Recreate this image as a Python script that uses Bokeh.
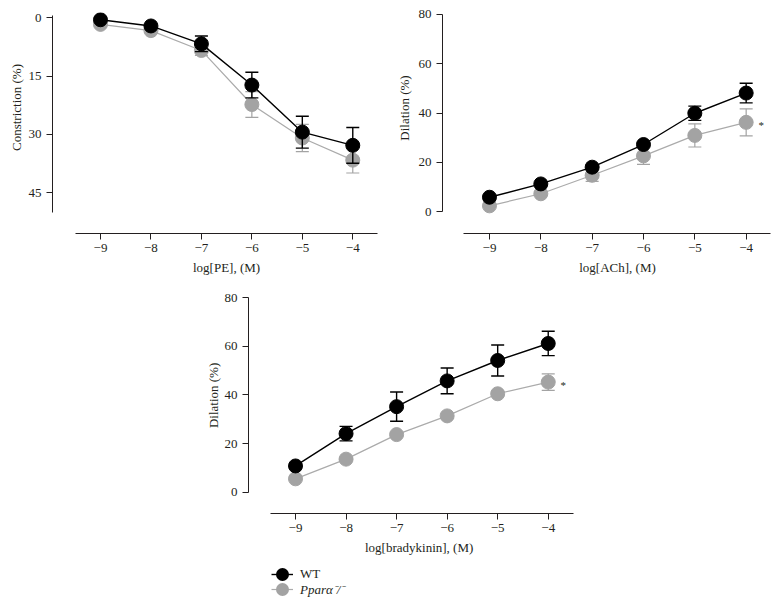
from bokeh.plotting import figure
from bokeh.layouts import column, row
from bokeh.models import Range1d, Spacer, Legend, LegendItem, ColumnDataSource, Title
from bokeh.core.properties import value
from bokeh.embed import file_html
from bokeh.resources import INLINE

# ---------------- data ----------------
log_conc = [-9, -8, -7, -6, -5, -4]
x_tick_labels = ["−9", "−8", "−7", "−6", "−5", "−4"]

pe_wt = [0.5, 2.1, 6.7, 17.3, 29.4, 32.8]
pe_wt_err = [0.5, 0.5, 2.0, 3.3, 4.1, 4.6]
pe_ko = [1.7, 3.3, 8.4, 22.3, 30.9, 36.6]
pe_ko_err = [0.4, 0.5, 1.3, 3.3, 3.5, 3.3]

ach_wt = [5.8, 11.2, 18.0, 27.2, 39.9, 48.1]
ach_wt_err = [0.5, 0.6, 0.8, 0.8, 2.9, 4.0]
ach_ko = [2.3, 7.2, 14.7, 22.6, 30.9, 36.2]
ach_ko_err = [0.5, 0.8, 2.5, 3.5, 4.7, 5.5]

bk_wt = [10.8, 24.1, 35.2, 45.8, 54.2, 61.2]
bk_wt_err = [1.0, 3.0, 6.0, 5.3, 6.4, 5.0]
bk_ko = [5.5, 13.6, 23.7, 31.4, 40.5, 45.3]
bk_ko_err = [0.5, 0.6, 0.8, 1.0, 1.0, 3.4]

pe_y_ticks = [0, 15, 30, 45]
dil_y_ticks = [0, 20, 40, 60, 80]

series_names = ["WT", "Pparα⁻/⁻"]

# ---------------- styling ----------------
FONT = "Liberation Serif"
AXIS_COL = "#231f20"
WT_COL = "#000000"
KO_COL = "#a3a3a3"
KO_LINE = "#ababab"
WT_LW = 1.4
KO_LW = 1.2


def add_title(p, text, side, offset, standoff):
    t = Title(text=text, align="left", offset=offset, standoff=standoff,
              vertical_align="middle", text_font=FONT, text_font_size="13px",
              text_font_style="normal", text_color=AXIS_COL)
    p.add_layout(t, side)


def style_axes(p, xlabel, ylabel, yticks, ybounds, xoff, yoff, ystand):
    p.xgrid.visible = False
    p.ygrid.visible = False
    p.outline_line_color = None
    xa = p.xaxis[0]
    ya = p.yaxis[0]
    xa.ticker = log_conc
    xa.major_label_overrides = {v: s for v, s in zip(log_conc, x_tick_labels)}
    xa.bounds = (-9.5, -3.5)
    ya.ticker = yticks
    ya.bounds = ybounds
    for ax in (xa, ya):
        ax.axis_line_color = AXIS_COL
        ax.axis_line_width = 1
        ax.major_tick_line_color = AXIS_COL
        ax.minor_tick_line_color = None
        ax.major_tick_out = 6
        ax.major_tick_in = 0
        ax.major_label_text_font = FONT
        ax.major_label_text_font_size = "13px"
        ax.major_label_text_color = AXIS_COL
    xa.major_label_standoff = 4
    ya.major_label_standoff = 5
    # axis titles, placed along the axis extent
    add_title(p, xlabel, "below", xoff, 9)
    add_title(p, ylabel, "left", yoff, ystand)


def add_series(p, y, err, color, line_color, lw):
    lo = [v - e for v, e in zip(y, err)]
    hi = [v + e for v, e in zip(y, err)]
    src = ColumnDataSource(dict(x=log_conc, y=y, lo=lo, hi=hi))
    p.segment(x0="x", y0="lo", x1="x", y1="hi", source=src,
              line_color=color, line_width=lw)
    p.scatter(x="x", y="hi", marker="dash", size=13, source=src,
              line_color=color, line_width=lw)
    p.scatter(x="x", y="lo", marker="dash", size=13, source=src,
              line_color=color, line_width=lw)
    p.line(x="x", y="y", source=src, line_color=line_color, line_width=lw)
    p.scatter(x="x", y="y", marker="circle", size=14, source=src,
              fill_color=color, line_color=color)


def add_star(p, y):
    src = ColumnDataSource(dict(x=[log_conc[-1]], y=[y[-1]], t=["*"]))
    p.text(x="x", y="y", text="t", source=src, x_offset=15, y_offset=3,
           text_align="center", text_baseline="middle",
           text_font=value(FONT), text_font_size="11px", text_color=AXIS_COL)


# ---------------- panel 1: PE ----------------
p1 = figure(frame_width=325, frame_height=221, output_backend="svg",
            toolbar_location=None, x_range=Range1d(-9.951, -3.51),
            y_range=Range1d(55.46, -1.36),
            min_border_left=52, min_border_right=11,
            min_border_top=12, min_border_bottom=49)
style_axes(p1, "log[PE], (M)", "Constriction (%)", pe_y_ticks, (-0.5, 50),
           140.5, 82.5, 2)
add_series(p1, pe_ko, pe_ko_err, KO_COL, KO_LINE, KO_LW)
add_series(p1, pe_wt, pe_wt_err, WT_COL, WT_COL, WT_LW)

# ---------------- panel 2: ACh ----------------
p2 = figure(frame_width=328, frame_height=221, output_backend="svg",
            toolbar_location=None, x_range=Range1d(-9.915, -3.526),
            y_range=Range1d(-8.93, 80.81),
            min_border_left=54, min_border_right=9,
            min_border_top=12, min_border_bottom=49)
style_axes(p2, "log[ACh], (M)", "Dilation (%)", dil_y_ticks, (0, 80),
           136.75, 92.8, 6)
add_series(p2, ach_ko, ach_ko_err, KO_COL, KO_LINE, KO_LW)
add_series(p2, ach_wt, ach_wt_err, WT_COL, WT_COL, WT_LW)
add_star(p2, ach_ko)

# ---------------- panel 3: bradykinin ----------------
p3 = figure(frame_width=325, frame_height=223, output_backend="svg",
            toolbar_location=None, x_range=Range1d(-9.930, -3.50),
            y_range=Range1d(-8.77, 83.0),
            min_border_left=52, min_border_right=10,
            min_border_top=8, min_border_bottom=49)
style_axes(p3, "log[bradykinin], (M)", "Dilation (%)", dil_y_ticks, (0, 80),
           116.5, 85.4, 0)
add_series(p3, bk_ko, bk_ko_err, KO_COL, KO_LINE, KO_LW)
add_series(p3, bk_wt, bk_wt_err, WT_COL, WT_COL, WT_LW)
add_star(p3, bk_ko)

# ---------------- legend ----------------
legfig = figure(width=130, height=45, output_backend="svg", toolbar_location=None,
                x_range=Range1d(0, 1), y_range=Range1d(0, 1),
                x_axis_type=None, y_axis_type=None, min_border=0)
legfig.xgrid.visible = False
legfig.ygrid.visible = False
legfig.outline_line_color = None
nan = float("nan")
hidden = ColumnDataSource(dict(x=[nan], y=[nan]))
wt_l = legfig.line(x="x", y="y", source=hidden, line_color=WT_COL, line_width=WT_LW)
wt_m = legfig.scatter(x="x", y="y", source=hidden, marker="circle",
                      fill_color=WT_COL, line_color=WT_COL, line_width=6.6)
ko_l = legfig.line(x="x", y="y", source=hidden, line_color=KO_LINE, line_width=KO_LW)
ko_m = legfig.scatter(x="x", y="y", source=hidden, marker="circle",
                      fill_color=KO_COL, line_color=KO_COL, line_width=6.6)

leg_common = dict(border_line_color=None, background_fill_alpha=0,
                  padding=0, margin=0, spacing=0,
                  glyph_width=22, glyph_height=16, label_height=16,
                  label_standoff=7, label_text_font=FONT,
                  label_text_font_size="13px", label_text_color=AXIS_COL)
leg_wt = Legend(items=[LegendItem(label=series_names[0], renderers=[wt_l, wt_m])],
                location=(23, 25), label_text_font_style="normal", **leg_common)
leg_ko = Legend(items=[LegendItem(label=series_names[1], renderers=[ko_l, ko_m])],
                location=(23, 9), label_text_font_style="italic", **leg_common)
legfig.add_layout(leg_wt)
legfig.add_layout(leg_ko)

for p in (p1, p2, p3, legfig):
    p.background_fill_color = "white"
    p.border_fill_color = "white"

layout = column(row(p1, p2),
                row(Spacer(width=196, height=280), p3),
                row(Spacer(width=248, height=45), legfig))

open("out.html", "w").write(file_html(layout, INLINE))
